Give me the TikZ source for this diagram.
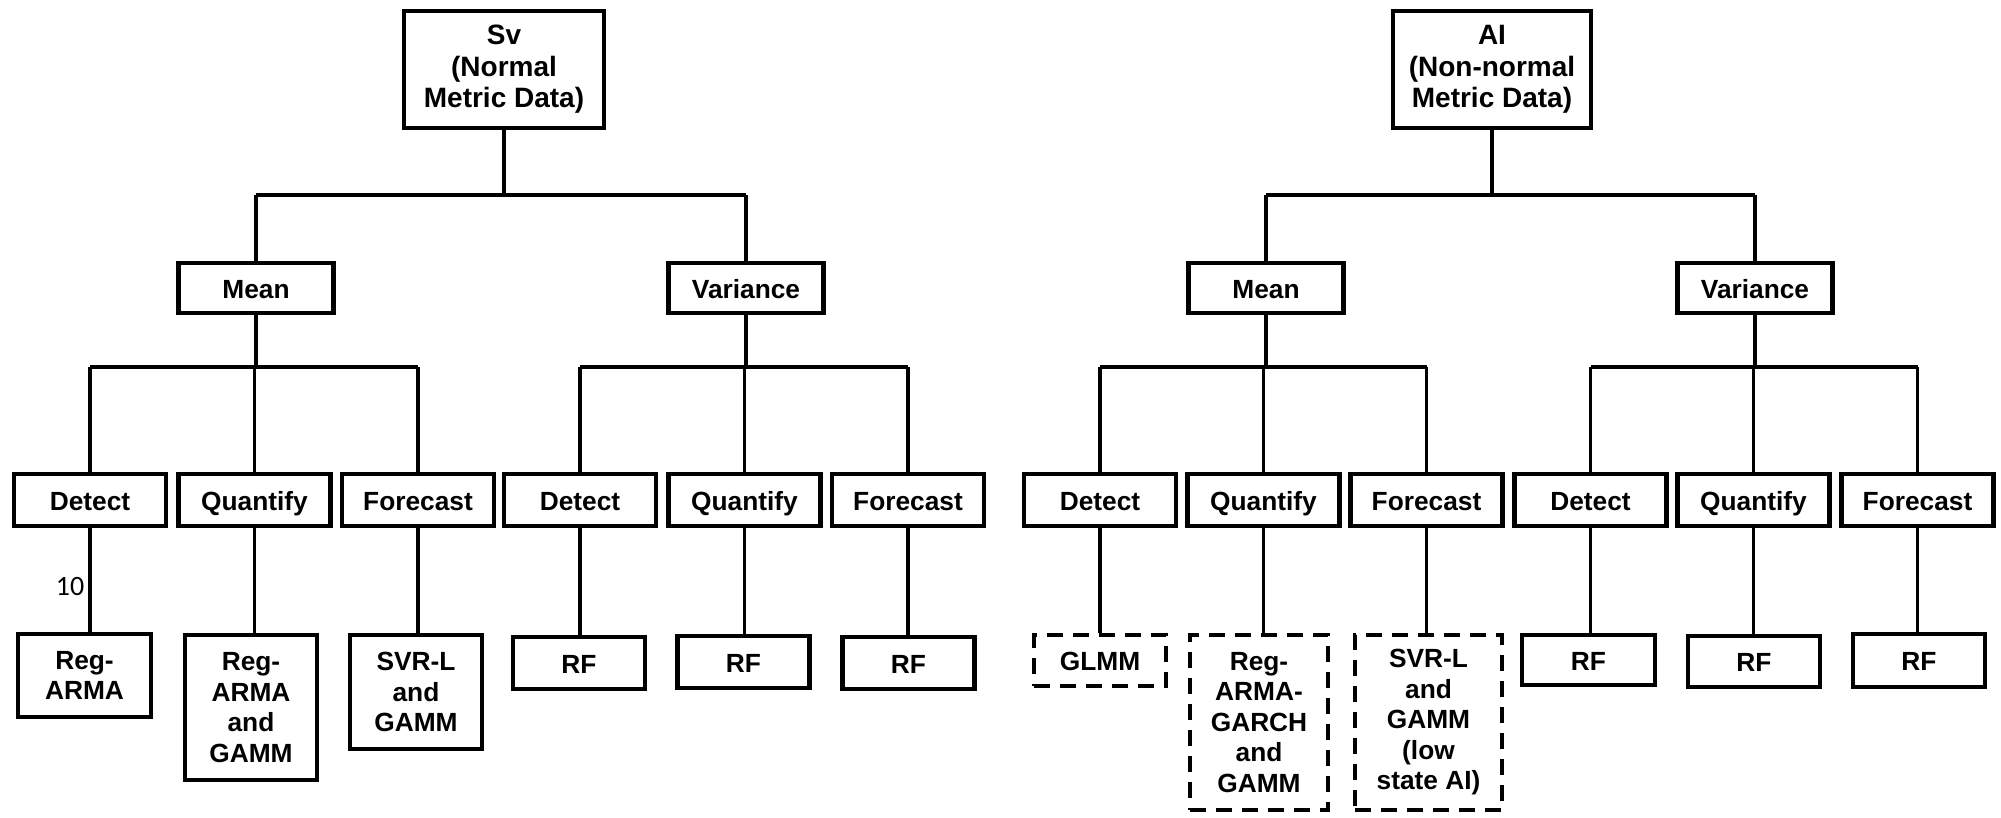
\documentclass[tikz,border=0pt]{standalone}
\usepackage{fontspec}
\setmainfont{Liberation Sans}
\newfontfamily\numfont{Carlito}
\begin{document}
\begin{tikzpicture}[x=1pt,y=-1pt,
  box/.style={draw=black,line width=4.5pt,fill=white,inner sep=0pt,align=center,
    font=\fontsize{26.3}{30.5}\selectfont\bfseries},
  onebox/.style={box,text height=20.5pt,text depth=0pt},
  topbox/.style={box,font=\fontsize{28}{31.5}\selectfont\bfseries},
  dbox/.style={box,dash pattern=on 16pt off 10pt},
  stem/.style={line width=3.5pt},
  bar/.style={line width=4.5pt}]
\useasboundingbox (0,0) rectangle (2001,817);
% level 1
\node[topbox,minimum width=200pt,minimum height=117pt] (sv) at (504,69.5) {Sv\\(Normal\\Metric Data)};
\node[topbox,minimum width=198pt,minimum height=117pt] (ai) at (1492,69.5) {AI\\(Non-normal\\Metric Data)};
% level 2
\node[onebox,minimum width=155pt,minimum height=50pt] (smean) at (256,288) {Mean};
\node[onebox,minimum width=155pt,minimum height=50pt] (svar) at (746,288) {Variance};
\node[onebox,minimum width=155pt,minimum height=50pt] (amean) at (1266,288) {Mean};
\node[onebox,minimum width=155pt,minimum height=50pt] (avar) at (1755,288) {Variance};
% level 3
\foreach \n/\x/\t in {sd/90/Detect,sq/254.5/Quantify,sf/418/Forecast,vd/580/Detect,vq/744.5/Quantify,vf/908/Forecast,
  ad/1100/Detect,aq/1263.5/Quantify,af/1426.5/Forecast,bd/1590.5/Detect,bq/1753.5/Quantify,bf/1917.5/Forecast}
  \node[onebox,minimum width=152pt,minimum height=52pt] (\n) at (\x,500) {\t};
% level 4
\node[box,minimum width=133pt,minimum height=83pt] (s1) at (84.5,675.5) {Reg-\\ARMA};
\node[box,minimum width=132pt,minimum height=145pt] (s2) at (251,707.5) {Reg-\\ARMA\\and\\GAMM};
\node[box,minimum width=132pt,minimum height=114pt] (s3) at (416,692) {SVR-L\\and\\GAMM};
\node[onebox,minimum width=132pt,minimum height=52pt] (s4) at (579,663) {RF};
\node[onebox,minimum width=132pt,minimum height=52pt] (s5) at (743.5,662) {RF};
\node[onebox,minimum width=132pt,minimum height=52pt] (s6) at (908.5,663) {RF};
\node[dbox,text height=20.5pt,text depth=0pt,minimum width=132pt,minimum height=51pt] (a1) at (1100,660.5) {GLMM};
\node[dbox,minimum width=138pt,minimum height=175pt] (a2) at (1259,722.5) {Reg-\\ARMA-\\GARCH\\and\\GAMM};
\node[dbox,minimum width=147pt,minimum height=175pt] (a3) at (1428.5,722.5) {SVR-L\\and\\GAMM\\(low\\state AI)};
\node[onebox,minimum width=133pt,minimum height=50pt] (a4) at (1588.5,660) {RF};
\node[onebox,minimum width=132pt,minimum height=51pt] (a5) at (1754,661.5) {RF};
\node[onebox,minimum width=132pt,minimum height=53pt] (a6) at (1919,660.5) {RF};
% connectors level 1 -> 2
\coordinate (b1) at (0,195);
\coordinate (b2) at (0,367);
\draw[stem] (sv.south) -- (sv.south |- b1);
\draw[stem] (ai.south) -- (ai.south |- b1);
\draw[bar] (smean.north |- b1) -- (svar.north |- b1);
\draw[bar] (amean.north |- b1) -- (avar.north |- b1);
\foreach \n in {smean,svar,amean,avar} \draw[stem] (\n.north) -- (\n.north |- b1);
% level 2 -> 3
\foreach \p/\l/\m/\r in {smean/sd/sq/sf,svar/vd/vq/vf,amean/ad/aq/af,avar/bd/bq/bf}{
  \draw[stem] (\p.south) -- (\p.south |- b2);
  \draw[bar] (\l.north |- b2) -- (\r.north |- b2);
  \draw[stem] (\l.north) -- (\l.north |- b2);
  \draw[stem] (\m.north) -- (\m.north |- b2);
  \draw[stem] (\r.north) -- (\r.north |- b2);
}
% level 3 -> 4
\foreach \u/\d in {sd/s1,sq/s2,sf/s3,vd/s4,vq/s5,vf/s6,ad/a1,aq/a2,af/a3,bd/a4,bq/a5,bf/a6}
  \draw[stem] (\u.south) -- (\u.south |- \d.north);
% stray label
\node[inner sep=0pt,font=\numfont\fontsize{28}{30}\selectfont] (ten) at (70,586) {10};
\end{tikzpicture}
\end{document}
